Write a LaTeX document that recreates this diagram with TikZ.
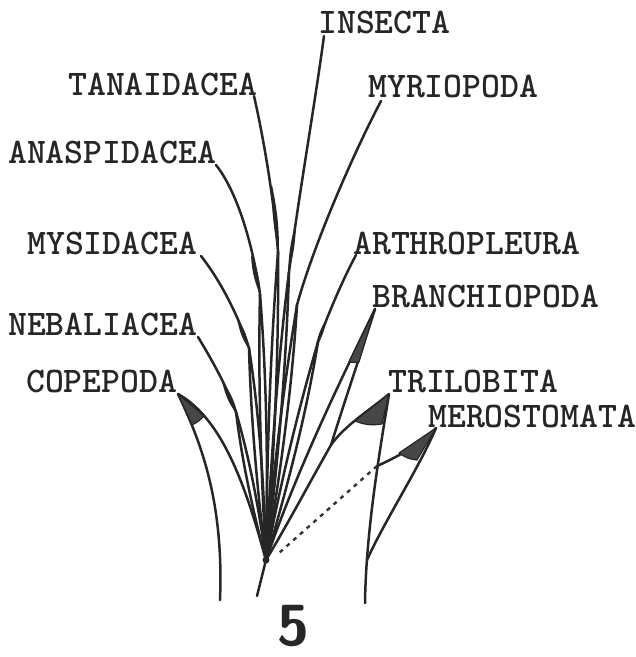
\documentclass[tikz,border=0pt]{standalone}
\usetikzlibrary{arrows.meta}
% thin dark lens along a lineage, from #1 to #2, bulge #3 degrees
\newcommand\lens[3]{\fill[spindle] (#1) to[bend left=#3] (#2) to[bend left=#3] (#1);}
\begin{document}
\begin{tikzpicture}[
  x=1pt, y=-1pt,
  taxon/.style  ={font=\fontsize{36}{38}\selectfont\ttfamily\bfseries, inner sep=0pt,
                  anchor=base west, text=black!85},
  stem/.style   ={draw=black!85, line width=2.5pt, line cap=round},
  spindle/.style={fill=black!85},
  wedge/.style  ={fill=black!72, draw=black!85, line width=1.2pt, line join=round},
  link/.style   ={draw=black!80, line width=2.4pt, dash pattern=on 4pt off 5pt},
  fig/.style    ={font=\fontsize{58}{58}\selectfont\sffamily\bfseries,
                  text=black!85, inner sep=0pt},
]
  \useasboundingbox (0,0) rectangle (636,657);

  % Taxon labels, left column then right column
  \node[taxon] (insecta) at (318, 33) {INSECTA};
  \node[taxon] (tanaid)  at ( 68, 95) {TANAIDACEA};
  \node[taxon] (myrio)   at (368, 97) {MYRIOPODA};
  \node[taxon] (anasp)   at (  8,163) {ANASPIDACEA};
  \node[taxon] (mysid)   at ( 27,254) {MYSIDACEA};
  \node[taxon] (arthro)  at (353,254) {ARTHROPLEURA};
  \node[taxon] (branch)  at (372,307) {BRANCHIOPODA};
  \node[taxon] (nebal)   at (  8,335) {NEBALIACEA};
  \node[taxon] (copep)   at ( 26,392) {COPEPODA};
  \node[taxon] (trilo)   at (388,392) {TRILOBITA};
  \node[taxon] (merost)  at (428,427) {MEROSTOMATA};
  \node[fig]   (five)    at (293,626) {5};

  % Roots and feet of the three stems
  \coordinate (root)  at (266,560);
  \coordinate (foot)  at (257,596);
  \coordinate (lfoot) at (220,600);
  \coordinate (rfoot) at (365,603);
  \coordinate (mfork) at (367,560);
  \coordinate (jBT)   at (331,445);
  \coordinate (xMer)  at (377,466);
  \coordinate (dEnd)  at (279,553);

  % Tips and splitting points
  \coordinate (tCop) at (178,394);
  \coordinate (tNeb) at (198,337); \coordinate (nNeb) at (236,412);
  \coordinate (tMys) at (201,256); \coordinate (nMys) at (249,348);
  \coordinate (tAna) at (216,165); \coordinate (nAna) at (260,294);
  \coordinate (tTan) at (254, 96); \coordinate (nTan) at (278,252);
  \coordinate (tIns) at (324, 36); \coordinate (nIns) at (289,272);
  \coordinate (tMyr) at (381,101); \coordinate (nMyr) at (297,305);
  \coordinate (tArt) at (356,255); \coordinate (nArt) at (318,342);
  \coordinate (tBra) at (375,309);
  \coordinate (tTri) at (389,394);
  \coordinate (tMer) at (436,428);

  % Central bundle
  \draw[stem] (root) -- (foot);
  \draw[stem] (tNeb) .. controls (212,360) and (226,385) .. (nNeb);
  \draw[stem] (nNeb) .. controls (242,461) and (253,512) .. (root);
  \draw[stem] (nNeb) .. controls (250,460) and (259,510) .. (root);
  \lens{222,381}{238,416}{12}

  \draw[stem] (tMys) .. controls (220,280) and (238,315) .. (nMys);
  \draw[stem] (nMys) .. controls (251,419) and (257,489) .. (root);
  \draw[stem] (nMys) .. controls (260,419) and (264,489) .. (root);
  \lens{237,318}{250,351}{12}

  \draw[stem] (tAna) .. controls (236,190) and (252,240) .. (nAna);
  \draw[stem] (nAna) .. controls (258,383) and (261,471) .. (root);
  \draw[stem] (nAna) .. controls (267,383) and (268,471) .. (root);
  \lens{251,255}{261,297}{10}

  \draw[stem] (tTan) .. controls (264,140) and (274,200) .. (nTan);
  \draw[stem] (nTan) .. controls (270,355) and (267,457) .. (root);
  \draw[stem] (nTan) .. controls (279,355) and (274,457) .. (root);
  \lens{272,185}{279,255}{6}

  \draw[stem] (tIns) .. controls (314,110) and (298,200) .. (nIns);
  \draw[stem] (nIns) .. controls (277,368) and (271,464) .. (root);
  \draw[stem] (nIns) .. controls (286,368) and (278,464) .. (root);
  \lens{296,222}{288,275}{7}

  \draw[stem] (tMyr) .. controls (350,160) and (312,250) .. (nMyr);
  \draw[stem] (nMyr) .. controls (283,390) and (273,475) .. (root);
  \draw[stem] (nMyr) .. controls (292,390) and (280,475) .. (root);

  \draw[stem] (tArt) .. controls (340,285) and (326,320) .. (nArt);
  \draw[stem] (nArt) .. controls (297,414) and (280,486) .. (root);
  \draw[stem] (nArt) .. controls (306,416) and (287,488) .. (root);
  \lens{326,320}{316,347}{12}

  % Copepoda, separate left stem
  \draw[stem] (tCop) .. controls (200,440) and (224,500) .. (lfoot);
  \draw[stem] (tCop) .. controls (225,420) and (248,495) .. (root);
  \draw[wedge] (tCop) -- (192,425) to[bend right=10] (204,416) -- cycle;

  % Branchiopoda
  \draw[stem] (tBra) .. controls (337,388) and (297,470) .. (root);
  \draw[stem] (tBra) .. controls (362,350) and (345,400) .. (jBT);
  \draw[stem] (jBT) .. controls (311,480) and (290,520) .. (root);
  \draw[wedge] (tBra) -- (349,362) to[bend right=10] (359,362) -- cycle;

  % Trilobita and Merostomata, right stem
  \draw[stem] (tTri) .. controls (370,410) and (345,425) .. (jBT);
  \draw[stem] (tTri) .. controls (380,450) and (366,530) .. (rfoot);
  \draw[wedge] (tTri) -- (355,421) to[bend right=15] (382,424) -- cycle;

  \draw[stem] (tMer) .. controls (420,445) and (395,458) .. (xMer);
  \draw[stem] (tMer) .. controls (418,470) and (385,520) .. (mfork);
  \draw[wedge] (tMer) -- (399,453) to[bend right=15] (417,460) -- cycle;
  \draw[link] (xMer) -- (dEnd);

  \fill[black!85] (root) circle (3.5);
\end{tikzpicture}
\end{document}
